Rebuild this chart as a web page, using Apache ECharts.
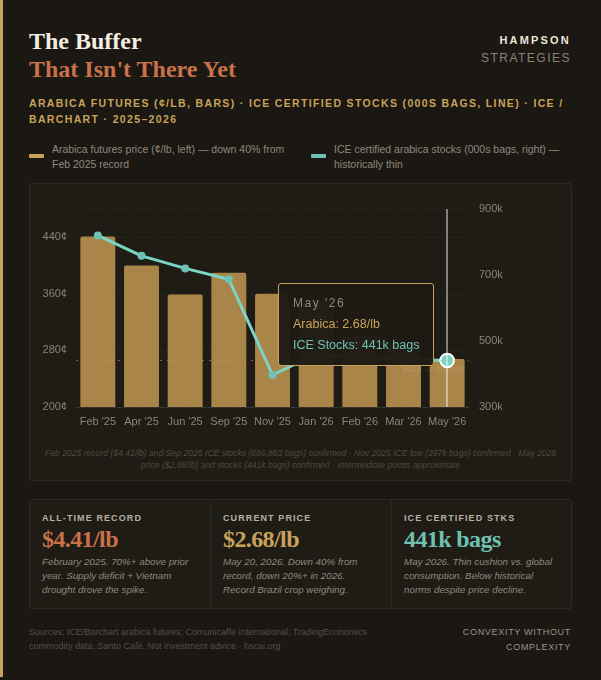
<!DOCTYPE html>
<html>
<head>
<meta charset="utf-8">
<script src="https://cdn.jsdelivr.net/npm/echarts@6/dist/echarts.min.js"></script>
<style>
  html, body { margin: 0; padding: 0; }
  body { width: 601px; height: 677px; background: #1b1712; position: relative; overflow: hidden;
         font-family: "Liberation Sans", Arial, sans-serif; }
  .stripe { position: absolute; left: 0; top: 0; width: 3px; height: 677px; background: #c9a35a; }
  .abs { position: absolute; white-space: nowrap; }
  .serif { font-family: "Liberation Serif", "DejaVu Serif", serif; font-weight: bold; }
  .panel { position: absolute; left: 29px; top: 183px; width: 541px; height: 296px;
           background: #1f1b15; border: 1px solid rgba(255,255,255,0.07); border-radius: 3px; }
  .cards { position: absolute; left: 29px; top: 499px; width: 541px; height: 108px;
           background: #1f1b15; border: 1px solid rgba(255,255,255,0.07); border-radius: 3px; }
  .card { position: absolute; top: 0; height: 108px; }
  .card .lab { position: absolute; left: 12px; top: 13px; font-size: 9px; font-weight: bold;
               letter-spacing: 1.1px; color: #b8b1a4; }
  .card .big { position: absolute; left: 12px; top: 26px; font-size: 24px; letter-spacing: -0.6px; }
  .card .txt { position: absolute; left: 12px; top: 55px; font-size: 9.8px; font-style: italic;
               line-height: 14px; color: #8f897d; white-space: nowrap; }
</style>
</head>
<body>
<div class="stripe"></div>

<div class="abs serif" style="left:29px;top:28px;font-size:24px;color:#f3ede2;">The Buffer</div>
<div class="abs serif" style="left:29px;top:56px;font-size:24px;color:#c8714a;">That Isn't There Yet</div>

<div class="abs" style="right:30px;top:34px;font-size:11px;font-weight:bold;letter-spacing:2.2px;color:#ece6da;">HAMPSON</div>
<div class="abs" style="right:30px;top:51px;font-size:12px;letter-spacing:1.5px;color:#8a8478;">STRATEGIES</div>

<div class="abs" style="left:29px;top:95px;font-size:10.5px;font-weight:bold;letter-spacing:1.35px;line-height:16px;color:#c9a35a;">ARABICA FUTURES (¢/LB, BARS) · ICE CERTIFIED STOCKS (000S BAGS, LINE) · ICE /<br>BARCHART · 2025–2026</div>

<div class="abs" style="left:29px;top:154px;width:15px;height:4px;background:#c9a35a;border-radius:1px;"></div>
<div class="abs" style="left:52px;top:142px;font-size:10.5px;line-height:15px;color:#8f897d;">Arabica futures price (¢/lb, left) — down 40% from<br>Feb 2025 record</div>
<div class="abs" style="left:311px;top:154px;width:15px;height:4px;background:#6fc2b3;border-radius:1px;"></div>
<div class="abs" style="left:334px;top:142px;font-size:10.5px;line-height:15px;color:#8f897d;">ICE certified arabica stocks (000s bags, right) —<br>historically thin</div>

<div class="panel">
  <div id="chart" style="position:absolute;left:0;top:0;width:541px;height:255px;"></div>
  <div class="abs" style="left:0;width:541px;top:263px;text-align:center;font-size:8.6px;font-style:italic;line-height:12px;color:#4f4a40;">Feb 2025 record ($4.41/lb) and Sep 2025 ICE stocks (686,863 bags) confirmed · Nov 2025 ICE low (397k bags) confirmed · May 2026<br>price ($2.68/lb) and stocks (441k bags) confirmed · Intermediate points approximate</div>
</div>

<div class="cards">
  <div class="card" style="left:0;width:180px;border-right:1px solid rgba(255,255,255,0.06);">
    <div class="lab">ALL-TIME RECORD</div>
    <div class="big serif" style="color:#c8714a;">$4.41/lb</div>
    <div class="txt">February 2025. 70%+ above prior<br>year. Supply deficit + Vietnam<br>drought drove the spike.</div>
  </div>
  <div class="card" style="left:181px;width:180px;border-right:1px solid rgba(255,255,255,0.06);">
    <div class="lab">CURRENT PRICE</div>
    <div class="big serif" style="color:#c9a35a;">$2.68/lb</div>
    <div class="txt">May 20, 2026. Down 40% from<br>record, down 20%+ in 2026.<br>Record Brazil crop weighing.</div>
  </div>
  <div class="card" style="left:362px;width:179px;">
    <div class="lab">ICE CERTIFIED STKS</div>
    <div class="big serif" style="color:#6fc2b3;">441k bags</div>
    <div class="txt">May 2026. Thin cushion vs. global<br>consumption. Below historical<br>norms despite price decline.</div>
  </div>
</div>

<div class="abs" style="left:29px;top:625px;font-size:9px;line-height:14px;color:#555046;">Sources: ICE/Barchart arabica futures; Comunicaffe International; TradingEconomics<br>commodity data; Santo Café. Not investment advice · hscai.org</div>
<div class="abs" style="right:30px;top:625px;font-size:9px;line-height:15px;letter-spacing:0.7px;text-align:right;color:#9a948a;">CONVEXITY WITHOUT<br>COMPLEXITY</div>

<script>
// months on the x axis
var months = ["Feb '25", "Apr '25", "Jun '25", "Sep '25", "Nov '25", "Jan '26", "Feb '26", "Mar '26", "May '26"];
// arabica futures, cents per lb (bars, left axis)
var arabica = [441, 400, 359, 390, 360, 350, 300, 290, 268];
// ICE certified stocks, thousand bags (line, right axis)
var stocks = [820, 758, 720, 687, 397, 460, 450, 445, 441];
// current stock level marker
var currentStocks = 441;

var chart = echarts.init(document.getElementById('chart'), null, { renderer: 'canvas' });

var option = {
  animation: false,
  grid: { left: 46, right: 102, top: 25, bottom: 32 },
  tooltip: {
    trigger: 'axis',
    alwaysShowContent: true,
    backgroundColor: 'rgba(30,26,20,0.97)',
    borderColor: '#c9a35a',
    borderWidth: 1,
    padding: [9, 14, 9, 14],
    extraCssText: 'box-shadow:none;border-radius:3px;',
    position: function () { return [248, 99]; },
    axisPointer: {
      type: 'line',
      lineStyle: { color: 'rgba(255,255,255,0.6)', width: 1.5, type: 'solid' }
    },
    formatter: function (params) {
      var i = params[0].dataIndex;
      return '<div style="font-family:Liberation Sans,Arial;line-height:21px;">' +
        '<div style="color:#8f897d;font-size:12px;letter-spacing:1.5px;">' + months[i] + '</div>' +
        '<div style="color:#c9a35a;font-size:12.5px;">Arabica: ' + (arabica[i] / 100).toFixed(2) + '/lb</div>' +
        '<div style="color:#6fc2b3;font-size:12.5px;">ICE Stocks: ' + stocks[i] + 'k bags</div></div>';
    }
  },
  xAxis: {
    type: 'category',
    data: months,
    axisLine: { lineStyle: { color: 'rgba(255,255,255,0.08)' } },
    axisTick: { show: false },
    axisLabel: { color: '#8a8478', fontSize: 11, margin: 9, interval: 0, fontFamily: 'Liberation Sans' }
  },
  yAxis: [
    {
      type: 'value',
      min: 200, max: 480, interval: 80,
      axisLabel: { color: '#8a8478', fontSize: 11, margin: 9, formatter: '{value}¢',
                   showMaxLabel: false, fontFamily: 'Liberation Sans' },
      axisLine: { show: false },
      axisTick: { show: false },
      splitLine: { lineStyle: { color: 'rgba(255,255,255,0.07)', type: [3, 3] } }
    },
    {
      type: 'value',
      min: 300, max: 900, interval: 200,
      position: 'right',
      axisLabel: { color: '#8a8478', fontSize: 11, margin: 10, formatter: '{value}k',
                   fontFamily: 'Liberation Sans' },
      axisLine: { show: false },
      axisTick: { show: false },
      splitLine: { show: false }
    }
  ],
  series: [
    {
      name: 'Arabica',
      type: 'bar',
      data: arabica,
      barCategoryGap: '20%',
      itemStyle: { color: '#a9854a', borderRadius: [2, 2, 0, 0] },
      emphasis: { disabled: true }
    },
    {
      name: 'ICE Stocks',
      type: 'line',
      yAxisIndex: 1,
      data: stocks,
      symbol: 'circle',
      symbolSize: 8,
      lineStyle: { color: '#6fc2b3', width: 3 },
      itemStyle: { color: '#6fc2b3' },
      emphasis: { scale: 1.7, itemStyle: { borderColor: '#ffffff', borderWidth: 2 } },
      markLine: {
        silent: true,
        symbol: 'none',
        lineStyle: { color: 'rgba(201,163,90,0.55)', type: [2, 5], width: 1 },
        label: { position: 'insideEndBottom', color: 'rgba(255,255,255,0.14)', fontSize: 9,
                 formatter: currentStocks + 'k ← current' },
        data: [{ yAxis: currentStocks }]
      }
    }
  ]
};

chart.setOption(option);
chart.dispatchAction({ type: 'showTip', seriesIndex: 1, dataIndex: 8 });
</script>
</body>
</html>
